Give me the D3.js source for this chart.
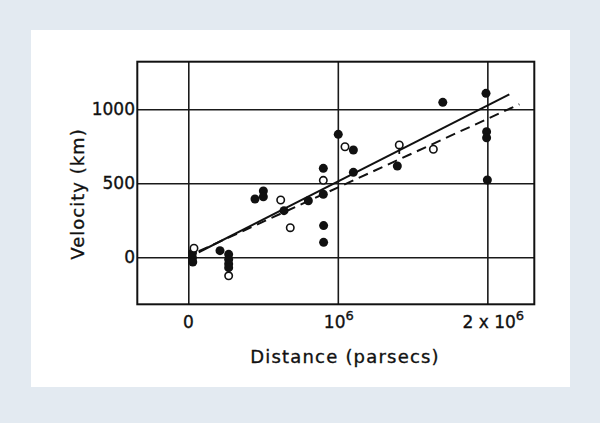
<!DOCTYPE html>
<html>
<head>
<meta charset="utf-8">
<script src="https://cdn.jsdelivr.net/npm/d3@7/dist/d3.min.js"></script>
<style>
  html, body { margin: 0; padding: 0; background: #e3eaf1; }
  svg { display: block; }
  text { font-family: "DejaVu Sans", sans-serif; fill: #111; stroke: #111; stroke-width: 0.35px; }
</style>
</head>
<body>
<svg id="chart" width="600" height="423"></svg>
<script>
// Distance in units of 10^6 parsecs, velocity in km/s
const filledDist = [0.028, 0.028, 0.030, 0.212, 0.27, 0.27, 0.27, 0.27, 0.446, 0.502, 0.502, 0.64, 0.803,
                    0.903, 0.903, 0.905, 0.905, 1.003, 1.104, 1.104, 1.398, 1.702, 1.991, 1.995, 1.995, 2.0];
const filledVel  = [29, -5, -32, 45, 20, -15, -45, -70, 394, 448, 409, 315, 382,
                    601, 426, 214, 101, 831, 725, 574, 617, 1047, 1108, 849, 808, 522];
const openDist = [0.038, 0.27, 0.618, 0.682, 0.903, 1.048, 1.411, 1.639];
const openVel  = [61, -125, 387, 200, 520, 747, 759, 730];
const openTicked = [false, false, false, false, false, false, true, false];
// fitted lines: [start, end]
const solidDist = [0.07, 2.147];
const solidVel  = [34, 1101];
const dashDist  = [0.07, 2.214];
const dashVel   = [41, 1034];
const xTicks = [0, 1, 2];
const xTickLabels = [["0", ""], ["10", "6"], ["2 x 10", "6"]];
const yTicks = [0, 500, 1000];
const yTickLabels = ["0", "500", "1000"];

const svg = d3.select("#chart");
svg.append("rect").attr("x", 31).attr("y", 30).attr("width", 539).attr("height", 357).attr("fill", "#ffffff");

const L = 137.3, R = 534.3, T = 61.7, B = 304.3;
const x = d3.scaleLinear().domain([-0.341, 2.314]).range([L, R]);
const y = d3.scaleLinear().domain([-317.6, 1321.6]).range([B, T]);

// grid lines via axes
const gx = svg.append("g").attr("transform", `translate(0,${B})`)
  .call(d3.axisBottom(x).tickValues(xTicks).tickSize(-(B - T)).tickFormat(""));
gx.select(".domain").remove();
gx.selectAll("line").attr("stroke", "#1a1a1a").attr("stroke-width", 1.6);

const gy = svg.append("g").attr("transform", `translate(${L},0)`)
  .call(d3.axisLeft(y).tickValues(yTicks).tickSize(-(R - L)).tickFormat(""));
gy.select(".domain").remove();
gy.selectAll("line").attr("stroke", "#1a1a1a").attr("stroke-width", 1.6);

// frame
svg.append("rect").attr("x", L).attr("y", T).attr("width", R - L).attr("height", B - T)
  .attr("fill", "none").attr("stroke", "#111").attr("stroke-width", 2);

// tick labels
yTicks.forEach((v, i) => {
  svg.append("text").attr("x", 135).attr("y", y(v) + 6)
    .attr("text-anchor", "end").attr("font-size", 17).text(yTickLabels[i]);
});
xTicks.forEach((v, i) => {
  const t = svg.append("text").attr("x", x(v) + (i === 2 ? 6 : (i === 1 ? 1 : 0))).attr("y", 328)
    .attr("text-anchor", "middle").attr("font-size", 17);
  t.append("tspan").text(xTickLabels[i][0]);
  if (xTickLabels[i][1]) t.append("tspan").attr("dy", -8).attr("font-size", 13).text(xTickLabels[i][1]);
});

// axis titles
svg.append("text").attr("x", 345).attr("y", 363).attr("text-anchor", "middle")
  .attr("font-size", 18).attr("letter-spacing", 1.2).text("Distance (parsecs)");
svg.append("text").attr("transform", "translate(84,194) rotate(-90)").attr("text-anchor", "middle")
  .attr("font-size", 18).attr("letter-spacing", 1.0).text("Velocity (km)");

// fitted lines
const line = d3.line().x(d => x(d[0])).y(d => y(d[1]));
svg.append("path").datum(solidDist.map((d, i) => [d, solidVel[i]])).attr("d", line)
  .attr("fill", "none").attr("stroke", "#111").attr("stroke-width", 2);
svg.append("path").datum(dashDist.map((d, i) => [d, dashVel[i]])).attr("d", line)
  .attr("fill", "none").attr("stroke", "#111").attr("stroke-width", 2).attr("stroke-dasharray", "10,6");

// points
svg.append("g").selectAll("circle").data(filledDist.map((d, i) => [d, filledVel[i]])).join("circle")
  .attr("cx", d => x(d[0])).attr("cy", d => y(d[1])).attr("r", 4.5).attr("fill", "#111");

const og = svg.append("g");
openDist.forEach((d, i) => {
  if (openTicked[i]) {
    og.append("line").attr("x1", x(d)).attr("x2", x(d)).attr("y1", y(openVel[i])).attr("y2", y(openVel[i]) + 9)
      .attr("stroke", "#111").attr("stroke-width", 1.8);
  }
  og.append("circle").attr("cx", x(d)).attr("cy", y(openVel[i])).attr("r", 3.7)
    .attr("fill", "#fff").attr("stroke", "#111").attr("stroke-width", 1.6);
});
</script>
</body>
</html>
